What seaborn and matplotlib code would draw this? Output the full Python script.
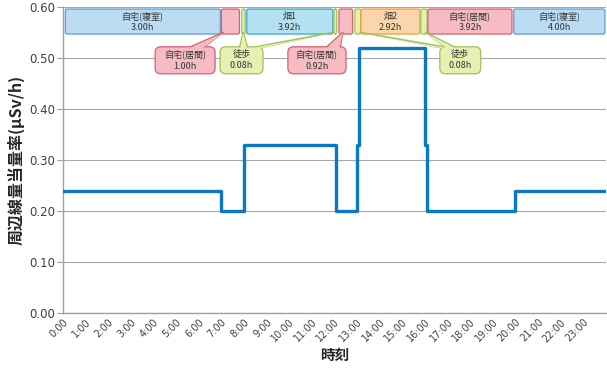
import numpy as np
import pandas as pd
import matplotlib
matplotlib.use('Agg')
import matplotlib.pyplot as plt
import seaborn as sns
from matplotlib.patches import FancyBboxPatch, Polygon

sns.set_theme(style='white')
plt.rcParams['font.family'] = ['Noto Sans CJK JP', 'DejaVu Sans']

# dose rate schedule (hours, uSv/h)
seg_start = [0, 7, 8, 8.08, 12, 12.08, 13, 13.08, 16, 16.08, 20]
seg_dose = [0.24, 0.20, 0.33, 0.33, 0.33, 0.20, 0.33, 0.52, 0.33, 0.20, 0.24]

# activity bar along the top
box_names = ['自宅(寝室)', '自宅(居間)', '徒歩', '畑1', '徒歩', '自宅(居間)',
             '徒歩', '畑2', '徒歩', '自宅(居間)', '自宅(寝室)']
box_hours = ['3.00h', '1.00h', '0.08h', '3.92h', '0.08h', '0.92h',
             '0.08h', '2.92h', '0.08h', '3.92h', '4.00h']
box_start = [0.1, 7.0, 7.9, 8.12, 11.98, 12.2, 12.9, 13.17, 15.82, 16.13, 19.93]
box_end = [6.95, 7.8, 8.05, 11.93, 12.1, 12.8, 13.17, 15.78, 16.1, 19.85, 23.96]
box_kind = ['bed', 'living', 'walk', 'field1', 'walk', 'living',
            'walk', 'field2', 'walk', 'living', 'bed']

tick_hours = list(range(24))
tick_labels = [f'{h}:00' for h in tick_hours]

colors = {
    'bed': ('#bcdcf4', '#5b9bd5'),
    'living': ('#f5bcc4', '#d5606d'),
    'walk': ('#e6f0b2', '#a3bf5a'),
    'field1': ('#b3e1f1', '#3ca6c6'),
    'field2': ('#fbd6ab', '#f39a3c'),
}

df = pd.DataFrame({'hour': seg_start + [24], 'dose': seg_dose + [seg_dose[-1]]})

fig = plt.figure(figsize=(6.07, 3.69), dpi=100)
ax = fig.add_axes([0.104, 0.152, 0.894, 0.829])

sns.lineplot(data=df, x='hour', y='dose', drawstyle='steps-post',
             color='#0a78c2', linewidth=2.4, ax=ax, zorder=3)

ax.set_xlim(0, 24)
ax.set_ylim(0, 0.6)
ax.set_yticks(np.arange(0, 0.61, 0.1))
ax.set_yticklabels([f'{v:.2f}' for v in np.arange(0, 0.61, 0.1)],
                   fontsize=8.5, color='#404040', family='DejaVu Sans')
ax.set_xticks(tick_hours)
ax.set_xticklabels(tick_labels, rotation=45, ha='right', rotation_mode='anchor',
                   fontsize=7, color='#404040', family='DejaVu Sans')
ax.tick_params(axis='y', length=4, color='#a0a0a0', width=0.8, left=True, pad=2)
ax.tick_params(axis='x', length=0, pad=3)
ax.yaxis.grid(True, color='#a8a8a8', linewidth=0.8)
ax.set_axisbelow(True)
for s in ['top', 'right']:
    ax.spines[s].set_visible(False)
for s in ['left', 'bottom']:
    ax.spines[s].set_color('#a0a0a0')
    ax.spines[s].set_linewidth(1.0)

ax.set_ylabel('周辺線量当量率(μSv/h)', fontsize=11.5, fontweight='bold', labelpad=3)
ax.set_xlabel('時刻', fontsize=10.5, fontweight='bold', labelpad=2)

# aspect between hour units and dose units (pixels)
aspect = (0.1 / 51.0) / (1 / 22.625)

y0, y1 = 0.547, 0.596
for name, hrs, xs, xe, kind in zip(box_names, box_hours, box_start, box_end, box_kind):
    fc, ec = colors[kind]
    p = FancyBboxPatch((xs, y0), xe - xs, y1 - y0,
                       boxstyle='round,pad=0,rounding_size=0.08',
                       mutation_aspect=aspect, fc=fc, ec=ec, lw=0.9, zorder=4)
    ax.add_patch(p)
    if xe - xs > 2:
        ax.text((xs + xe) / 2, (y0 + y1) / 2, f'{name}\n{hrs}', ha='center',
                va='center', fontsize=6.5, color='#333333', zorder=5,
                linespacing=1.3)

# callouts: (label index, box x0, x1, tail tips, tail base fractions)
callouts = [
    (1, 4.07, 6.72, [7.12], [(0.55, 0.8)]),
    (2, 6.94, 8.84, [7.96, 11.98], [(0.45, 0.65), (0.7, 0.95)]),
    (5, 9.94, 12.51, [12.38], [(0.65, 0.9)]),
    (6, 16.66, 18.47, [13.1, 16.0], [(0.02, 0.25), (0.15, 0.4)]),
]
cy0, cy1 = 0.469, 0.522
tip_y = 0.551
for idx, cx0, cx1, tips, bases in callouts:
    fc, ec = colors[box_kind[idx]]
    w = cx1 - cx0
    for tip, (b0, b1) in zip(tips, bases):
        tri = Polygon([(cx0 + b0 * w, cy1 - 0.002), (tip, tip_y),
                       (cx0 + b1 * w, cy1 - 0.002)], closed=True,
                      fc=fc, ec=ec, lw=0.9, zorder=4)
        ax.add_patch(tri)
    p = FancyBboxPatch((cx0, cy0), w, cy1 - cy0,
                       boxstyle='round,pad=0,rounding_size=0.25',
                       mutation_aspect=aspect, fc=fc, ec=ec, lw=0.9, zorder=4.5)
    ax.add_patch(p)
    for tip, (b0, b1) in zip(tips, bases):
        inner = Polygon([(cx0 + b0 * w + 0.05, cy1 - 0.003), (tip, tip_y - 0.002),
                         (cx0 + b1 * w - 0.05, cy1 - 0.003)], closed=True,
                        fc=fc, ec='none', zorder=4.6)
        ax.add_patch(inner)
    ax.text((cx0 + cx1) / 2, (cy0 + cy1) / 2, f'{box_names[idx]}\n{box_hours[idx]}',
            ha='center', va='center', fontsize=6.5, color='#333333', zorder=5,
            linespacing=1.3)

fig.savefig('out.png', dpi=100)
